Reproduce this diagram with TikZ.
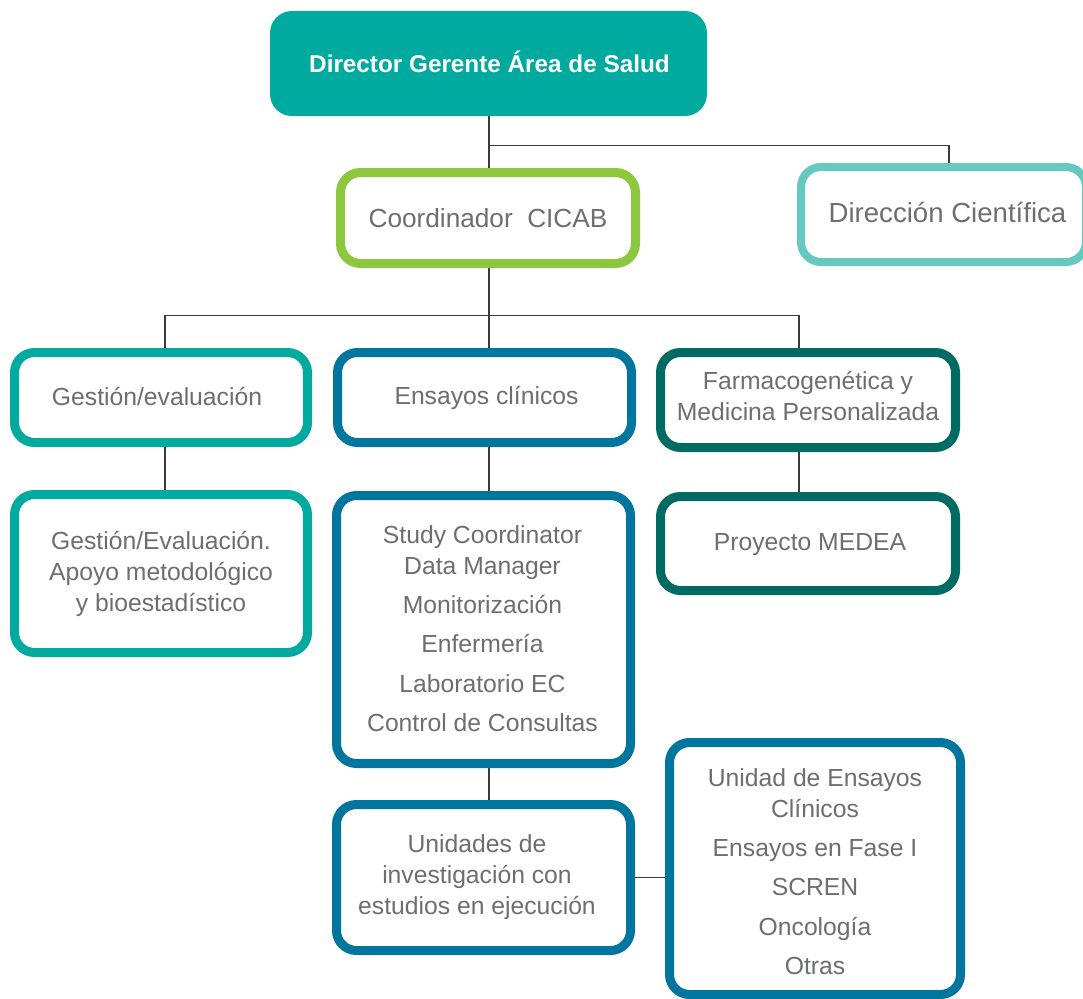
\documentclass[tikz,border=0pt]{standalone}
\usepackage{fontspec}
\setmainfont{Liberation Sans}
\usetikzlibrary{backgrounds}
\definecolor{tealA}{HTML}{00AA9F}
\definecolor{tealL}{HTML}{66C9C1}
\definecolor{greenC}{HTML}{8DC63F}
\definecolor{blueE}{HTML}{00769E}
\definecolor{tealD}{HTML}{006B63}
\definecolor{txt}{HTML}{6D6E71}
\definecolor{conn}{HTML}{3A3A3A}
\tikzset{
  box/.style={draw, fill=white, rounded corners=20pt, line width=9pt, text=txt,
    align=center, inner sep=0pt, font=\fontsize{24.7}{31}\selectfont},
  lbl/.style={text=txt, inner sep=0pt, align=center, font=\fontsize{24.7}{31}\selectfont},
  link/.style={draw=conn, line width=1.3pt},
}
\begin{document}
\begin{tikzpicture}[x=1pt,y=-1pt]
\useasboundingbox (0,0) rectangle (1083,998);
% top box
\node[fill=tealA, rounded corners=22pt, minimum width=437pt, minimum height=105pt, inner sep=0pt] (top) at (488.5,63.5) {};
\node[text=white, font=\fontsize{24.3}{30}\bfseries\selectfont, inner sep=0pt] (toplbl) at (489.5,62) {Director Gerente Área de Salud};
% level 1
\node[box, draw=greenC, minimum width=295pt, minimum height=91pt, font=\fontsize{26.2}{31}\selectfont] (coord) at (488,218) {Coordinador\ \ CICAB};
\node[box, draw=tealL, line width=8pt, minimum width=285pt, minimum height=95pt] (dir) at (943.5,214.5) {};
\node[lbl, font=\fontsize{27.6}{31}\selectfont] (dirlbl) at (947.5,212) {Dirección Científica};
% level 2
\node[box, draw=tealA, minimum width=293pt, minimum height=90pt] (gest) at (161,397.5) {};
\node[lbl] (gestlbl) at (157,397) {Gestión/evaluación};
\node[box, draw=blueE, minimum width=294pt, minimum height=90pt] (ens) at (484.5,397.5) {};
\node[lbl] (enslbl) at (486.5,398) {Ensayos clínicos};
\node[box, draw=tealD, minimum width=295pt, minimum height=95pt] (farm) at (808,400) {};
\node[lbl] (farmlbl) at (808,396.5) {Farmacogenética y\\Medicina Personalizada};
% level 3
\node[box, draw=tealA, minimum width=293pt, minimum height=158pt] (geval) at (161,573.5) {Gestión/Evaluación.\\Apoyo metodológico\\y bioestadístico};
\node[box, draw=blueE, minimum width=294pt, minimum height=268pt] (study) at (483.5,629.5) {};
\node[lbl] (studylbl) at (482.5,629) {Study Coordinator\\Data Manager\\[8pt]Monitorización\\[8pt]Enfermería\\[9pt]Laboratorio EC\\[8pt]Control de Consultas};
\node[box, draw=tealD, minimum width=295pt, minimum height=94pt] (medea) at (808,543.5) {};
\node[lbl] (medealbl) at (810,545) {Proyecto MEDEA};
% level 4
\node[box, draw=blueE, minimum width=294pt, minimum height=146pt] (unid) at (483.5,877.5) {};
\node[lbl] (unidlbl) at (477,877) {Unidades de\\investigación con\\estudios en ejecución};
\node[box, draw=blueE, minimum width=291pt, minimum height=252pt] (right) at (815,868.5) {};
\node[lbl] (rightlbl) at (815,872) {Unidad de Ensayos\\Clínicos\\[8pt]Ensayos en Fase I\\[8pt]SCREN\\[9pt]Oncología\\[8pt]Otras};
% connectors
\begin{scope}[on background layer]
\path ([xshift=0.5pt]top.south) coordinate (t0);
\draw[link] (t0) -- ++(0,29) coordinate (j1) -| ([xshift=5.5pt]dir.north);
\draw[link] (j1) -- (j1 |- coord.north);
\draw[link] (j1 |- coord.south) -- ++(0,47.5) coordinate (j2);
\draw[link] (j2) -| ([xshift=4pt]gest.north);
\draw[link] (j2) -| ([xshift=-9pt]farm.north);
\draw[link] (j2) -- (j2 |- ens.north);
\draw[link] ([xshift=4pt]gest.south) -- ([xshift=4pt]geval.north);
\path (j2 |- ens.south) coordinate (e1);
\draw[link] (e1) -- (e1 |- study.north);
\draw[link] ([xshift=-9pt]farm.south) -- ([xshift=-9pt]medea.north);
\path (j2 |- study.south) coordinate (e2);
\draw[link] (e2) -- (e2 |- unid.north);
\draw[link] (unid.east) -- (unid.east -| right.west);
\end{scope}
\end{tikzpicture}
\end{document}
